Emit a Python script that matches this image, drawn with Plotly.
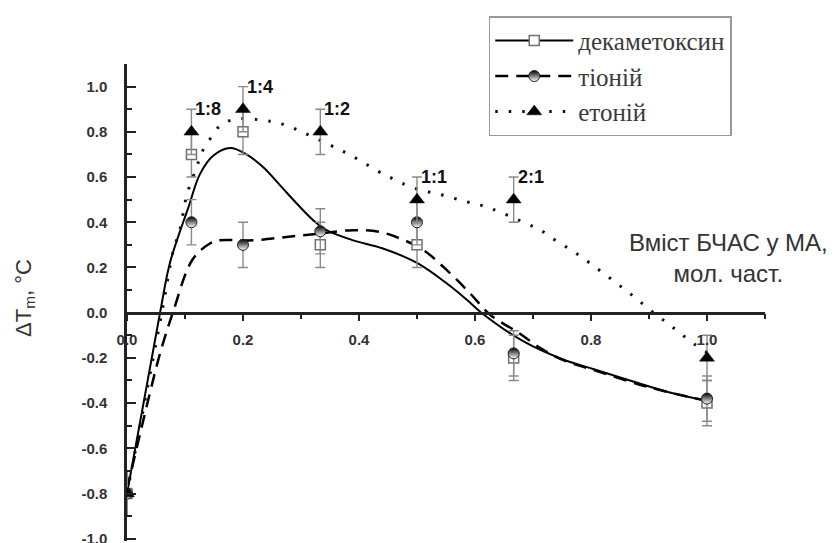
import plotly.graph_objects as go

# ---------------- data ----------------
x_pts = [0.0, 1/9, 0.2, 1/3, 0.5, 2/3, 1.0]

dek_y = [-0.8, 0.70, 0.80, 0.30, 0.30, -0.20, -0.40]
dek_err = [0.1, 0.1, 0.1, 0.1, 0.1, 0.1, 0.1]
tio_y = [-0.8, 0.40, 0.30, 0.36, 0.40, -0.18, -0.38]
tio_err = [0.1, 0.1, 0.1, 0.1, 0.1, 0.1, 0.1]
eto_y = [-0.8, 0.80, 0.90, 0.80, 0.50, 0.50, -0.20]
eto_err = [0.1, 0.1, 0.1, 0.1, 0.1, 0.1, 0.1]

# fitted curves
dek_fit_x = [0.0, 0.057, 0.074, 0.106, 0.126, 0.149, 0.178, 0.206, 0.235, 0.264, 0.293,
             0.321, 0.344, 0.39, 0.44, 0.5, 0.551, 0.586, 0.611, 0.683, 0.752, 0.805,
             0.867, 0.936, 1.0]
dek_fit_y = [-0.8, 0.0, 0.22, 0.467, 0.614, 0.695, 0.728, 0.70, 0.643, 0.563, 0.482,
             0.409, 0.365, 0.32, 0.285, 0.22, 0.13, 0.057, 0.0, -0.126, -0.207, -0.25,
             -0.30, -0.353, -0.39]

tio_fit_x = [0.0, 0.04, 0.057, 0.079, 0.113, 0.143, 0.16, 0.218, 0.275, 0.333, 0.39,
             0.436, 0.471, 0.511, 0.551, 0.591, 0.626, 0.675, 0.712, 0.749, 0.80,
             0.90, 1.0]
tio_fit_y = [-0.78, -0.35, -0.18, 0.0, 0.235, 0.306, 0.32, 0.32, 0.335, 0.35, 0.365,
             0.357, 0.328, 0.277, 0.189, 0.087, -0.009, -0.089, -0.155, -0.207, -0.25,
             -0.33, -0.39]

eto_fit_x = [0.0, 0.06, 0.08, 0.091, 0.103, 0.12, 0.129, 0.143, 0.16, 0.186, 0.235,
             0.258, 0.281, 0.304, 0.353, 0.379, 0.402, 0.428, 0.451, 0.474, 0.499,
             0.522, 0.546, 0.572, 0.594, 0.617, 0.643, 0.689, 0.715, 0.738, 0.764,
             0.787, 0.81, 0.833, 0.859, 0.882, 0.905, 0.931, 0.953, 0.979, 1.0]
eto_fit_y = [-0.8, 0.0, 0.277, 0.365, 0.519, 0.643, 0.709, 0.768, 0.826, 0.856, 0.851,
             0.841, 0.822, 0.797, 0.738, 0.705, 0.673, 0.632, 0.602, 0.573, 0.548,
             0.533, 0.519, 0.50, 0.485, 0.47, 0.445, 0.394, 0.362, 0.321, 0.28,
             0.24, 0.196, 0.152, 0.101, 0.054, 0.006, -0.045, -0.089, -0.141, -0.175]

ratio_labels = ["1:8", "1:4", "1:2", "1:1", "2:1"]
ratio_x = [1/9, 0.2, 1/3, 0.5, 2/3]
ratio_top = [0.9, 1.0, 0.9, 0.6, 0.6]

x_tickvals = [0.0, 0.2, 0.4, 0.6, 0.8, 1.0]
x_ticktext = ["0.0", "0.2", "0.4", "0.6", "0.8", "1.0"]
y_tickvals = [-1.0, -0.8, -0.6, -0.4, -0.2, 0.0, 0.2, 0.4, 0.6, 0.8, 1.0]
y_ticktext = ["-1.0", "-0.8", "-0.6", "-0.4", "-0.2", "0.0", "0.2", "0.4", "0.6", "0.8", "1.0"]

names = ["декаметоксин", "тіоній", "етоній"]

# ---------------- styles ----------------
ERR = dict(type="data", color="#8a8a8a", thickness=1.4, width=5)
m_dek = dict(symbol="square", size=10, color="white", line=dict(color="#707070", width=1.5))
m_tio = dict(symbol="circle", size=11, color="black",
             gradient=dict(type="vertical", color="white"), line=dict(color="#222", width=1))
m_eto = dict(symbol="triangle-up", size=13, color="black", line=dict(color="black", width=0.5))
l_dek = dict(color="black", width=2)
l_tio = dict(color="black", width=2.5, dash="13px,8px")
l_eto = dict(color="#111", width=3, dash="2.5px,11px")

fig = go.Figure()

# fitted lines
fig.add_trace(go.Scatter(x=dek_fit_x, y=dek_fit_y, mode="lines", line=dict(**l_dek, shape="spline"),
                         showlegend=False, hoverinfo="skip"))
fig.add_trace(go.Scatter(x=tio_fit_x, y=tio_fit_y, mode="lines", line=dict(**l_tio, shape="spline"),
                         showlegend=False, hoverinfo="skip"))
fig.add_trace(go.Scatter(x=eto_fit_x, y=eto_fit_y, mode="lines", line=dict(**l_eto, shape="spline"),
                         showlegend=False, hoverinfo="skip"))

# data points
fig.add_trace(go.Scatter(x=x_pts, y=dek_y, mode="markers", marker=m_dek,
                         error_y=dict(array=dek_err, **ERR), showlegend=False))
fig.add_trace(go.Scatter(x=x_pts, y=tio_y, mode="markers", marker=m_tio,
                         error_y=dict(array=tio_err, **ERR), showlegend=False))
fig.add_trace(go.Scatter(x=x_pts, y=eto_y, mode="markers", marker=m_eto,
                         error_y=dict(array=eto_err, **ERR), showlegend=False))

# legend proxies
for nm, ln, mk in zip(names, [l_dek, l_tio, l_eto], [m_dek, m_tio, m_eto]):
    fig.add_trace(go.Scatter(x=[None], y=[None], mode="lines+markers", name=nm,
                             line=ln, marker=mk))

# ratio labels
for lab, xv, yv in zip(ratio_labels, ratio_x, ratio_top):
    fig.add_annotation(x=xv, y=yv, text=lab, showarrow=False, xanchor="left", yanchor="middle",
                       xshift=2, yshift=0,
                       font=dict(family="Liberation Sans", size=18, weight="bold", color="#111"))

# axis titles as annotations
fig.add_annotation(xref="paper", yref="paper", x=0.943, y=0.593,
                   text="Вміст БЧАС у МА,<br>мол. част.", showarrow=False,
                   align="center", xanchor="center", yanchor="middle",
                   font=dict(family="Liberation Sans", size=24, color="#333"))
fig.add_annotation(xref="paper", yref="paper", x=-0.161, y=0.51,
                   text="ΔT<sub>m</sub>, °C", showarrow=False, textangle=-90,
                   xanchor="center", yanchor="middle",
                   font=dict(family="Liberation Sans", size=22, color="#333"))

yr = [-1.01, 1.1]
tickfont = dict(family="Liberation Sans", size=15, weight="bold", color="#333")

# the page body has an 8px margin, so the figure is sized/offset to compensate
fig.update_layout(
    width=827, height=535,
    margin=dict(l=119, r=70, t=56, b=2, autoexpand=False),
    paper_bgcolor="white", plot_bgcolor="white",
    xaxis=dict(range=[0, 1.1], anchor="free", position=(0 - yr[0]) / (yr[1] - yr[0]),
               showgrid=False, zeroline=False, showline=True, linecolor="#222", linewidth=2.5,
               tickvals=x_tickvals, ticktext=x_ticktext, ticks="outside", ticklen=7,
               tickwidth=2, tickcolor="#222", tickfont=tickfont, ticklabelstandoff=6,
               automargin=False, ticklabeloverflow="allow",
               minor=dict(dtick=0.1, tick0=0, ticks="outside", ticklen=5, tickwidth=2,
                          tickcolor="#222")),
    yaxis=dict(range=yr, showgrid=False, zeroline=False, showline=True, linecolor="#222",
               linewidth=2.5, tickvals=y_tickvals, ticktext=y_ticktext, ticks="inside",
               ticklen=9, tickwidth=2, tickcolor="#222", tickfont=tickfont,
               ticklabelstandoff=14, automargin=False, ticklabeloverflow="allow",
               minor=dict(dtick=0.1, tick0=0, ticks="inside", ticklen=5, tickwidth=2,
                          tickcolor="#222")),
    legend=dict(x=0.567, y=1.1, xanchor="left", yanchor="top", bgcolor="white",
                bordercolor="#999", borderwidth=1.5,
                font=dict(family="Liberation Serif", size=25, color="#3a3a3a"),
                itemwidth=78, tracegroupgap=0, entrywidth=185, entrywidthmode="pixels"),
    showlegend=True,
)

fig.write_html("out.html")
